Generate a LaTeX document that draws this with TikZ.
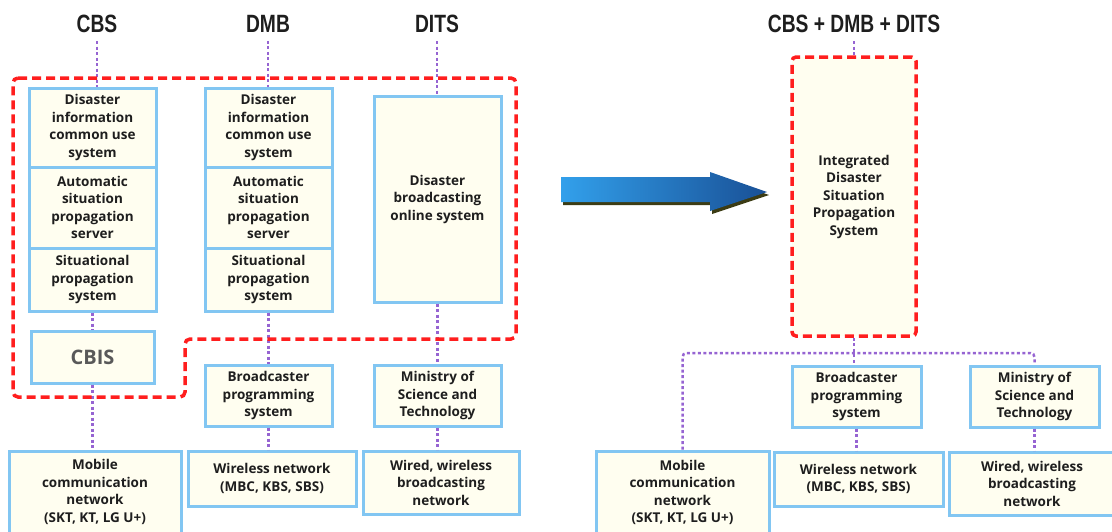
\documentclass[tikz,border=0pt]{standalone}
\usepackage{fontspec}
\setmainfont{Open Sans}
\newfontfamily\titlefont[FakeStretch=0.77]{Liberation Sans}

\definecolor{boxblue}{RGB}{130,198,242}
\definecolor{boxfill}{RGB}{255,254,240}
\definecolor{dashred}{RGB}{255,30,30}
\definecolor{linkpurple}{RGB}{150,100,210}
\definecolor{txt}{RGB}{30,30,30}
\definecolor{arrowlight}{RGB}{50,160,235}
\definecolor{arrowdark}{RGB}{25,80,150}
\definecolor{arrowshadow}{RGB}{60,60,20}

\tikzset{
  sysbox/.style={draw=boxblue, line width=3pt, fill=boxfill, align=center, text=txt,
    font=\bfseries\fontsize{13.5}{17.5}\selectfont, inner sep=0pt},
  titletxt/.style={font=\titlefont\bfseries\fontsize{25}{25}\selectfont, text=txt, inner sep=8pt},
  link/.style={draw=linkpurple, line width=2.5pt, dash pattern=on 3pt off 2.5pt},
  redline/.style={draw=dashred, line width=3.5pt, dash pattern=on 9pt off 5pt, rounded corners=5pt},
}

\begin{document}
\begin{tikzpicture}[x=1pt,y=-1pt]
\useasboundingbox (0,0) rectangle (1112,531);

% titles
\node[titletxt] (cbs) at (97,24) {CBS};
\node[titletxt] (dmb) at (268,24) {DMB};
\node[titletxt] (dits) at (437,24) {DITS};
\node[titletxt] (allsys) at (854,24) {CBS + DMB + DITS};

% CBS column
\node[sysbox, minimum width=127pt, minimum height=79pt] (cbsA) at (92.5,127.5) {Disaster\\information\\common use\\system};
\node[sysbox, minimum width=127pt, minimum height=81pt] (cbsB) at (92.5,207.5) {Automatic\\situation\\propagation\\server};
\node[sysbox, minimum width=127pt, minimum height=63pt] (cbsC) at (92.5,279.5) {Situational\\propagation\\system};
\node[sysbox, minimum width=123pt, minimum height=52pt, text=black!65, font=\bfseries\fontsize{20}{20}\selectfont] (cbis) at (92.5,357) {CBIS};

% DMB column
\node[sysbox, minimum width=127pt, minimum height=79pt] (dmbA) at (268.5,127.5) {Disaster\\information\\common use\\system};
\node[sysbox, minimum width=127pt, minimum height=81pt] (dmbB) at (268.5,207.5) {Automatic\\situation\\propagation\\server};
\node[sysbox, minimum width=127pt, minimum height=63pt] (dmbC) at (268.5,279.5) {Situational\\propagation\\system};
\node[sysbox, minimum width=127pt, minimum height=61pt] (bcL) at (268.5,395.5) {Broadcaster\\programming\\system};

% DITS column
\node[sysbox, minimum width=127pt, minimum height=206pt] (ditsA) at (437.5,199) {Disaster\\broadcasting\\online system};
\node[sysbox, minimum width=127pt, minimum height=61pt] (minL) at (437.5,395.5) {Ministry of\\Science and\\Technology};

% networks (left)
\node[sysbox, minimum width=172pt, minimum height=82pt] (mobL) at (95,492) {Mobile\\communication\\network\\(SKT, KT, LG U+)};
\node[sysbox, minimum width=168pt, minimum height=55pt] (wlL) at (272,478.5) {Wireless network\\(MBC, KBS, SBS)};
\node[sysbox, minimum width=156pt, minimum height=63pt] (wdL) at (441,482.5) {Wired, wireless\\broadcasting\\network};

% integrated system (right)
\node[sysbox, draw=dashred, line width=3.5pt, dash pattern=on 9pt off 5pt, rounded corners=4pt,
  minimum width=124pt, minimum height=279pt] (integ) at (854,196.5) {Integrated\\Disaster\\Situation\\Propagation\\System};
\node[sysbox, minimum width=129pt, minimum height=61pt] (bcR) at (856.5,396.5) {Broadcaster\\programming\\system};
\node[sysbox, minimum width=129pt, minimum height=61pt] (minR) at (1034.5,396.5) {Ministry of\\Science and\\Technology};
\node[sysbox, minimum width=173pt, minimum height=83pt] (mobR) at (682.5,492.5) {Mobile\\communication\\network\\(SKT, KT, LG U+)};
\node[sysbox, minimum width=169pt, minimum height=54pt] (wlR) at (858.5,479) {Wireless network\\(MBC, KBS, SBS)};
\node[sysbox, minimum width=165pt, minimum height=63pt] (wdR) at (1032,483.5) {Wired, wireless\\broadcasting\\network};

% dotted links
\draw[link] (cbs.south) -- (cbs.south |- cbsA.north);
\draw[link] (dmb.south) -- (dmb.south |- dmbA.north);
\draw[link] (dits.south) -- (dits.south |- ditsA.north);
\draw[link] (allsys.south) -- (allsys.south |- integ.north);
\foreach \a/\b in {cbsC/cbis, cbis/mobL, dmbC/bcL, bcL/wlL, ditsA/minL, minL/wdL, integ/bcR, bcR/wlR, minR/wdR}
    \draw[link] (\a.south) -- (\a.south |- \b.north);
\coordinate (busR) at (854,353);
\draw[link, rounded corners=4pt] (mobR.north) |- (busR) -| (minR.north);

% red boundary round the old systems
\draw[redline] (13,78) -- (516,78) -- (516,339) -- (185,339) -- (185,397) -- (13,397) -- cycle;

% big arrow
\fill[arrowshadow, shift={(2,3)}] (561,177) -- (710,177) -- (710,172) -- (767,192) -- (710,211) -- (710,202) -- (561,202) -- cycle;
\shade[left color=arrowlight, right color=arrowdark] (561,177) -- (710,177) -- (710,172) -- (767,192) -- (710,211) -- (710,202) -- (561,202) -- cycle;

\end{tikzpicture}
\end{document}
